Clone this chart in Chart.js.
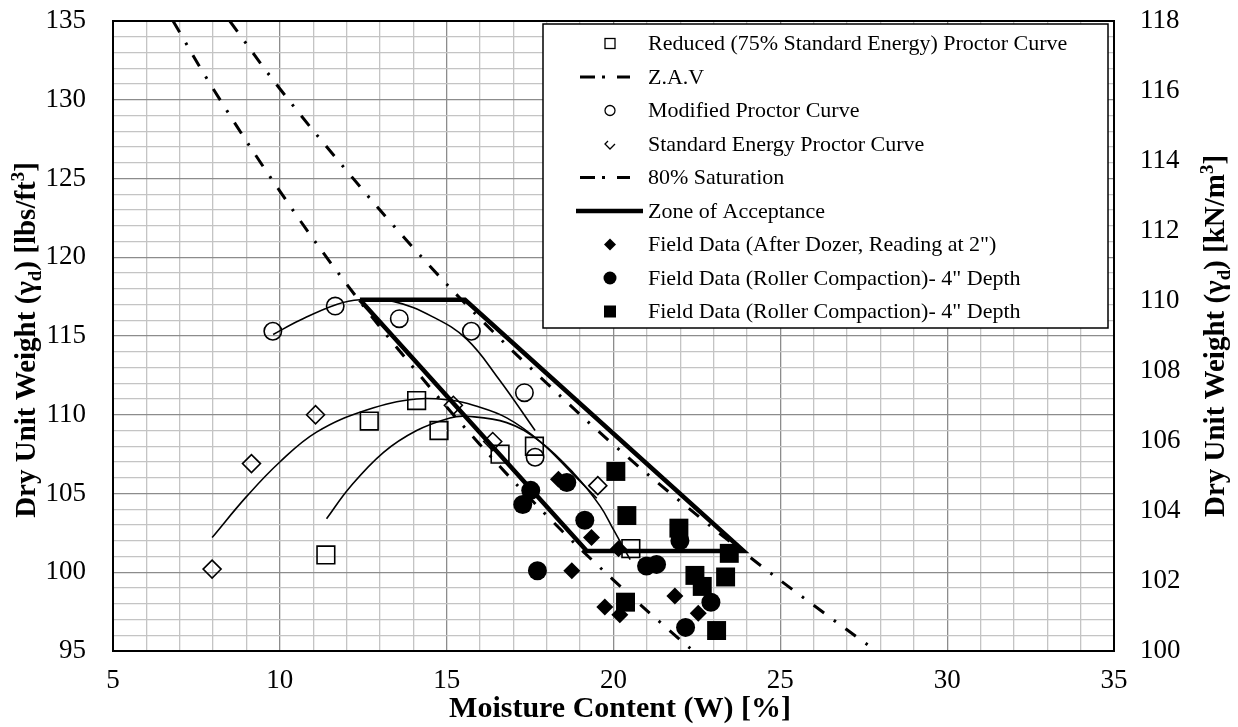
<!DOCTYPE html>
<html><head><meta charset="utf-8">
<script src="https://cdn.jsdelivr.net/npm/chart.js@4.4.0/dist/chart.umd.min.js"></script>
<style>html,body{margin:0;padding:0;background:#fff;} canvas{display:block;}</style>
</head><body>
<canvas id="c" width="1238" height="727"></canvas>
<script>
// ---- Data ----
const xTickLabels = [5, 10, 15, 20, 25, 30, 35];
const yLeftTickLabels = [95, 100, 105, 110, 115, 120, 125, 130, 135];
const yRightTickLabels = [100, 102, 104, 106, 108, 110, 112, 114, 116, 118];

const reducedW  = [11.38, 12.68, 14.10, 14.77, 16.60, 17.63, 20.52];
const reducedGd = [101.1, 109.6, 110.9, 109.0, 107.5, 108.0, 101.5];
const reducedFitW  = [11.4, 12.1, 13.1, 14.1, 15.1, 15.6, 16.8, 17.8, 18.8, 19.6, 20.0, 20.5];
const reducedFitGd = [103.4, 105.4, 107.6, 109.0, 109.8, 109.9, 109.5, 108.3, 106.3, 104.2, 102.7, 100.8];

const modifiedW  = [9.79, 11.66, 13.58, 15.74, 17.33, 17.65];
const modifiedGd = [115.3, 116.9, 116.1, 115.3, 111.4, 107.3];
const modifiedFitW  = [9.8, 10.6, 11.7, 12.4, 13.4, 14.6, 15.6, 16.55, 17.65];
const modifiedFitGd = [115.1, 116.0, 117.0, 117.3, 117.2, 116.2, 114.8, 112.3, 109.0];

const standardW  = [7.97, 9.15, 11.07, 15.20, 16.38, 19.53];
const standardGd = [100.2, 106.9, 110.0, 110.6, 108.3, 105.5];
const standardFitW  = [7.97, 9.0, 10.0, 11.1, 12.6, 14.1, 15.2, 15.8, 16.8, 17.8, 18.8, 19.5];
const standardFitGd = [102.2, 104.8, 107.0, 108.9, 110.3, 111.0, 110.9, 110.6, 109.8, 108.3, 106.2, 104.7];

const zavW  = [8.5, 10, 12, 14, 16, 18, 20, 22, 24, 26, 28];
const zavGd = [135.0, 130.7, 125.5, 120.6, 116.1, 112.0, 108.1, 104.5, 101.1, 97.9, 94.8];

const sat80W  = [6.8, 8, 10, 12, 14, 16, 18, 20, 22, 22.4];
const sat80Gd = [135.0, 130.7, 124.2, 118.3, 113.0, 108.1, 103.6, 99.5, 95.7, 95.0];

const zoneW  = [12.4, 15.55, 23.9, 19.2, 12.4];
const zoneGd = [117.3, 117.3, 101.35, 101.35, 117.3];

const dozerW  = [18.35, 19.34, 20.15, 18.75, 19.74, 20.19, 21.84, 22.54];
const dozerGd = [105.9, 102.2, 101.5, 100.1, 97.8, 97.3, 98.5, 97.4];

const rollerCircW  = [17.52, 17.28, 18.60, 19.14, 17.72, 20.99, 21.29, 21.99, 22.92, 22.16];
const rollerCircGd = [105.2, 104.3, 105.7, 103.3, 100.1, 100.4, 100.5, 102.0, 98.1, 96.5];

const rollerSqW  = [20.07, 20.40, 21.96, 23.47, 22.44, 22.66, 23.36, 20.36, 23.09];
const rollerSqGd = [106.4, 103.6, 102.8, 101.2, 99.8, 99.1, 99.7, 98.1, 96.3];

// ---- helpers ----
const pts = (xs, ys) => xs.map((x, i) => ({x: x, y: ys[i]}));
const FONT = '"Liberation Serif", "Times New Roman", serif';
const DASHDOT = [13, 12, 2.5, 12];

const datasets = [
  {label: 'Field Data (Roller Compaction)- 4" Depth sq', data: pts(rollerSqW, rollerSqGd), pointStyle: 'rect', pointRadius: 13.4, backgroundColor: '#000', borderColor: '#000', borderWidth: 0, showLine: false},
  {label: 'Field Data (Roller Compaction)- 4" Depth', data: pts(rollerCircW, rollerCircGd), pointStyle: 'circle', pointRadius: 9.5, backgroundColor: '#000', borderColor: '#000', borderWidth: 0, showLine: false},
  {label: 'Field Data (After Dozer, Reading at 2")', data: pts(dozerW, dozerGd), pointStyle: 'rectRot', pointRadius: 8.5, backgroundColor: '#000', borderColor: '#000', borderWidth: 0, showLine: false},
  {label: 'Reduced (75% Standard Energy) Proctor Curve', data: pts(reducedW, reducedGd), pointStyle: 'rect', pointRadius: 12.5, backgroundColor: 'rgba(0,0,0,0)', borderColor: '#000', borderWidth: 1.6, showLine: false},
  {label: 'Modified Proctor Curve', data: pts(modifiedW, modifiedGd), pointStyle: 'circle', pointRadius: 8.7, backgroundColor: 'rgba(0,0,0,0)', borderColor: '#000', borderWidth: 1.6, showLine: false},
  {label: 'Standard Energy Proctor Curve', data: pts(standardW, standardGd), pointStyle: 'rectRot', pointRadius: 9, backgroundColor: 'rgba(0,0,0,0)', borderColor: '#000', borderWidth: 1.6, showLine: false},
  {label: 'reduced fit', data: pts(reducedFitW, reducedFitGd), showLine: true, pointRadius: 0, borderColor: '#000', borderWidth: 1.6, tension: 0.4},
  {label: 'modified fit', data: pts(modifiedFitW, modifiedFitGd), showLine: true, pointRadius: 0, borderColor: '#000', borderWidth: 1.6, tension: 0.4},
  {label: 'standard fit', data: pts(standardFitW, standardFitGd), showLine: true, pointRadius: 0, borderColor: '#000', borderWidth: 1.6, tension: 0.4},
  {label: 'Zone of Acceptance', data: pts(zoneW, zoneGd), showLine: true, pointRadius: 0, borderColor: '#000', borderWidth: 4.5, tension: 0, borderJoinStyle: 'miter'},
  {label: 'Z.A.V', data: pts(zavW, zavGd), showLine: true, pointRadius: 0, borderColor: '#000', borderWidth: 3, borderDash: DASHDOT, tension: 0.4},
  {label: '80% Saturation', data: pts(sat80W, sat80Gd), showLine: true, pointRadius: 0, borderColor: '#000', borderWidth: 3, borderDash: DASHDOT, tension: 0.4}
];

const legendItems = [
  {text: 'Reduced (75% Standard Energy) Proctor Curve', sym: 'openSquare'},
  {text: 'Z.A.V', sym: 'dashdot'},
  {text: 'Modified Proctor Curve', sym: 'openCircle'},
  {text: 'Standard Energy Proctor Curve', sym: 'chevron'},
  {text: '80% Saturation', sym: 'dashdot'},
  {text: 'Zone of Acceptance', sym: 'thick'},
  {text: 'Field Data (After Dozer, Reading at 2")', sym: 'fillDiamond'},
  {text: 'Field Data (Roller Compaction)- 4" Depth', sym: 'fillCircle'},
  {text: 'Field Data (Roller Compaction)- 4" Depth', sym: 'fillSquare'}
];

const gridColor = (ctx) => (ctx.tick && Math.round(ctx.tick.value) % 5 === 0) ? '#8c8c8c' : '#c4c4c4';

const framePlugin = {
  id: 'frame',
  beforeDatasetsDraw(chart) {
    const a = chart.chartArea, c = chart.ctx;
    c.save();
    c.strokeStyle = '#000'; c.lineWidth = 2;
    c.strokeRect(a.left, a.top, a.right - a.left, a.bottom - a.top);
    c.restore();
  }
};

function richWidth(c, segs, size) {
  let w = 0;
  segs.forEach(s => {
    const fs = s.sub || s.sup ? size * 0.65 : size;
    c.font = 'bold ' + fs + 'px ' + FONT;
    w += c.measureText(s.t).width;
  });
  return w;
}
function drawRich(c, segs, size, x, y) {
  let cx = x;
  segs.forEach(s => {
    const fs = s.sub || s.sup ? size * 0.65 : size;
    c.font = 'bold ' + fs + 'px ' + FONT;
    const dy = s.sub ? size * 0.22 : (s.sup ? -size * 0.38 : 0);
    c.fillText(s.t, cx, y + dy);
    cx += c.measureText(s.t).width;
  });
}

const titlesPlugin = {
  id: 'titles',
  afterDraw(chart) {
    const c = chart.ctx;
    c.save();
    c.fillStyle = '#000';
    c.textBaseline = 'alphabetic';
    c.textAlign = 'left';
    const xs = [{t: 'Moisture Content (W) [%]'}];
    const xw = richWidth(c, xs, 30);
    drawRich(c, xs, 30, 620 - xw / 2, 717);
    const ls = [{t: 'Dry Unit Weight (γ'}, {t: 'd', sub: true}, {t: ') [lbs/ft'}, {t: '3', sup: true}, {t: ']'}];
    const lw = richWidth(c, ls, 29);
    c.save(); c.translate(35, 340); c.rotate(-Math.PI / 2);
    drawRich(c, ls, 29, -lw / 2, 0); c.restore();
    const rs = [{t: 'Dry Unit Weight (γ'}, {t: 'd', sub: true}, {t: ') [kN/m'}, {t: '3', sup: true}, {t: ']'}];
    const rw = richWidth(c, rs, 29);
    c.save(); c.translate(1224, 336); c.rotate(-Math.PI / 2);
    drawRich(c, rs, 29, -rw / 2, 0); c.restore();
    c.restore();
  }
};

const legendPlugin = {
  id: 'customLegend',
  afterDatasetsDraw(chart) {
    const c = chart.ctx;
    const L = 543, T = 24, R = 1108, B = 328;
    c.save();
    c.fillStyle = '#fff';
    c.fillRect(L, T, R - L, B - T);
    c.strokeStyle = '#000'; c.lineWidth = 1.5;
    c.strokeRect(L, T, R - L, B - T);
    c.font = '22px ' + FONT;
    c.textBaseline = 'middle'; c.textAlign = 'left';
    const sx = 610;
    legendItems.forEach((it, i) => {
      const y = 43.5 + i * 33.5;
      c.fillStyle = '#000'; c.strokeStyle = '#000';
      c.setLineDash([]);
      if (it.sym === 'openSquare') { c.lineWidth = 1.3; c.strokeRect(sx - 5, y - 5, 10, 10); }
      else if (it.sym === 'openCircle') { c.lineWidth = 1.3; c.beginPath(); c.arc(sx, y, 5, 0, Math.PI * 2); c.stroke(); }
      else if (it.sym === 'chevron') { c.lineWidth = 1.3; c.beginPath(); c.moveTo(sx - 2, y - 3); c.lineTo(sx - 5, y); c.lineTo(sx, y + 5); c.lineTo(sx + 5, y); c.stroke(); }
      else if (it.sym === 'dashdot') {
        c.lineWidth = 3; c.beginPath();
        c.moveTo(580, y); c.lineTo(595, y);
        c.moveTo(602, y); c.lineTo(605, y);
        c.moveTo(617, y); c.lineTo(630, y);
        c.stroke();
      }
      else if (it.sym === 'thick') { c.lineWidth = 4.5; c.beginPath(); c.moveTo(576, y); c.lineTo(643, y); c.stroke(); }
      else if (it.sym === 'fillDiamond') { c.beginPath(); c.moveTo(sx, y - 6); c.lineTo(sx + 6, y); c.lineTo(sx, y + 6); c.lineTo(sx - 6, y); c.closePath(); c.fill(); }
      else if (it.sym === 'fillCircle') { c.beginPath(); c.arc(sx, y, 6.5, 0, Math.PI * 2); c.fill(); }
      else if (it.sym === 'fillSquare') { c.fillRect(sx - 6, y - 6, 12, 12); }
      c.fillStyle = '#000';
      c.fillText(it.text, 648, y + 1);
    });
    c.restore();
  }
};

const noPad = (s) => { s.paddingTop = 0; s.paddingBottom = 0; s.paddingLeft = 0; s.paddingRight = 0; };

new Chart(document.getElementById('c'), {
  type: 'scatter',
  data: {datasets: datasets},
  options: {
    responsive: false,
    devicePixelRatio: 1,
    animation: false,
    layout: {padding: {top: 21, left: 0, right: 0, bottom: 0}},
    plugins: {legend: {display: false}, tooltip: {enabled: false}},
    scales: {
      x: {
        type: 'linear', min: 5, max: 35,
        afterFit: (s) => { s.height = 76; noPad(s); },
        ticks: {stepSize: 1, autoSkip: false, maxRotation: 0, padding: 14, color: '#000',
          font: {family: FONT, size: 27},
          callback: (v) => xTickLabels.includes(v) ? String(v) : ''},
        grid: {color: gridColor, lineWidth: 1.3, drawTicks: false},
        border: {color: '#000', width: 2}
      },
      y: {
        type: 'linear', position: 'left', min: 95, max: 135,
        afterFit: (s) => { s.width = 113; noPad(s); },
        ticks: {stepSize: 1, autoSkip: false, padding: 27, color: '#000',
          font: {family: FONT, size: 27},
          callback: (v) => yLeftTickLabels.includes(v) ? String(v) : ''},
        grid: {color: gridColor, lineWidth: 1.3, drawTicks: false},
        border: {color: '#000', width: 2}
      },
      y2: {
        type: 'linear', position: 'right', min: 100, max: 118,
        afterFit: (s) => { s.width = 124; noPad(s); },
        ticks: {stepSize: 2, autoSkip: false, padding: 26, color: '#000',
          font: {family: FONT, size: 27},
          callback: (v) => yRightTickLabels.includes(v) ? String(v) : ''},
        grid: {display: false, drawTicks: false},
        border: {color: '#000', width: 2}
      }
    }
  },
  plugins: [framePlugin, legendPlugin, titlesPlugin]
});
</script>
</body></html>
